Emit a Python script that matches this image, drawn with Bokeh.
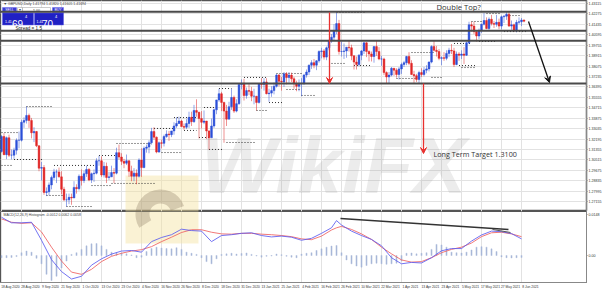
from bokeh.plotting import figure
from bokeh.models import Range1d, FixedTicker, Label, Arrow, VeeHead, Span, ColumnDataSource
from bokeh.layouts import column
from bokeh.embed import file_html
from bokeh.resources import INLINE
from bokeh.core.properties import value

# ---------------- data (GBPUSD daily) ----------------
title_text = "\u25bc GBPUSD,Daily  1.41794 1.41820 1.41605 1.41694"
first_open = 1.3120
highs = [1.3252,1.3267,1.3240,1.3255,1.3135,1.3150,1.3225,1.3280,1.3375,1.3395,
         1.3482,1.3425,1.3390,1.3315,1.3285,1.3170,1.3035,1.3010,1.2830,1.2870,
         1.2925,1.2980,1.2975,1.2990,1.2960,1.2835,1.2780,1.2780,1.2780,1.2880,
         1.2855,1.2935,1.2975,1.2965,1.3005,1.2985,1.2950,1.2975,1.3065,1.3085,
         1.3080,1.3035,1.3030,1.2955,1.3005,1.2985,1.3150,1.3175,1.3105,1.3060,
         1.3095,1.3045,1.3005,1.2985,1.2975,1.3065,1.3145,1.3160,1.3175,1.3210,
         1.3310,1.3315,1.3240,1.3200,1.3215,1.3255,1.3290,1.3285,1.3285,1.3355,
         1.3395,1.3400,1.3375,1.3345,1.3380,1.3440,1.3440,1.3495,1.3540,1.3440,
         1.3445,1.3450,1.3365,1.3290,1.3385,1.3465,1.3535,1.3625,1.3600,1.3520,
         1.3495,1.3520,1.3625,1.3570,1.3540,1.3660,1.3700,1.3705,1.3635,1.3665,
         1.3640,1.3625,1.3565,1.3670,1.3710,1.3710,1.3710,1.3625,1.3645,1.3675,
         1.3745,1.3745,1.3720,1.3760,1.3760,1.3760,1.3755,1.3720,1.3690,1.3700,
         1.3710,1.3745,1.3780,1.3820,1.3855,1.3865,1.3855,1.3935,1.3955,1.3945,
         1.3965,1.4020,1.4065,1.4145,1.4240,1.4180,1.4005,1.3990,1.3960,1.4015,
         1.3980,1.3895,1.3885,1.3905,1.3935,1.4000,1.4000,1.3935,1.3925,1.3965,
         1.4015,1.3960,1.3890,1.3875,1.3765,1.3760,1.3800,1.3790,1.3790,1.3800,
         1.3835,1.3850,1.3890,1.3920,1.3855,1.3770,1.3745,1.3770,1.3790,1.3800,
         1.3815,1.3845,1.3975,1.4010,1.3970,1.3945,1.3885,1.3920,1.3935,1.3955,
         1.3985,1.3955,1.3925,1.3920,1.3935,1.3960,1.4005,1.4165,1.4165,1.4165,
         1.4090,1.4110,1.4150,1.4235,1.4200,1.4200,1.4220,1.4170,1.4220,1.4190,
         1.4215,1.4220,1.4250,1.4250,1.4175,1.4150,1.4180,1.4200,1.4195,1.4182]
lows = [1.3110,1.3090,1.3058,1.3075,1.3055,1.3060,1.3095,1.3145,1.3200,1.3310,
        1.3345,1.3310,1.3225,1.3195,1.3155,1.2960,1.2885,1.2770,1.2760,1.2765,
        1.2815,1.2890,1.2865,1.2910,1.2775,1.2720,1.2676,1.2695,1.2690,1.2750,
        1.2780,1.2805,1.2845,1.2865,1.2915,1.2880,1.2865,1.2875,1.2935,1.3005,
        1.2915,1.2910,1.2865,1.2890,1.2915,1.2865,1.2935,1.3055,1.3010,1.2985,
        1.3010,1.2915,1.2880,1.2880,1.2855,1.2910,1.2915,1.2985,1.3110,1.3105,
        1.3175,1.3215,1.3105,1.3110,1.3145,1.3160,1.3230,1.3205,1.3235,1.3255,
        1.3310,1.3340,1.3320,1.3295,1.3300,1.3310,1.3325,1.3350,1.3400,1.3225,
        1.3305,1.3340,1.3220,1.3135,1.3235,1.3310,1.3420,1.3520,1.3445,1.3190,
        1.3325,1.3385,1.3455,1.3430,1.3435,1.3495,1.3620,1.3530,1.3545,1.3575,
        1.3525,1.3500,1.3450,1.3505,1.3625,1.3610,1.3580,1.3520,1.3560,1.3580,
        1.3635,1.3645,1.3610,1.3640,1.3660,1.3675,1.3680,1.3625,1.3605,1.3605,
        1.3565,1.3655,1.3715,1.3735,1.3785,1.3790,1.3775,1.3835,1.3870,1.3860,
        1.3855,1.3935,1.3995,1.4015,1.4065,1.3900,1.3885,1.3865,1.3875,1.3925,
        1.3855,1.3780,1.3780,1.3805,1.3855,1.3905,1.3880,1.3845,1.3845,1.3835,
        1.3890,1.3855,1.3810,1.3735,1.3670,1.3670,1.3725,1.3730,1.3715,1.3700,
        1.3745,1.3800,1.3815,1.3815,1.3735,1.3670,1.3680,1.3670,1.3720,1.3725,
        1.3750,1.3765,1.3830,1.3925,1.3885,1.3855,1.3815,1.3850,1.3855,1.3880,
        1.3905,1.3800,1.3815,1.3850,1.3865,1.3825,1.3890,1.3985,1.4085,1.4065,
        1.4005,1.4025,1.4075,1.4135,1.4105,1.4100,1.4135,1.4115,1.4125,1.4105,
        1.4105,1.4155,1.4180,1.4125,1.4100,1.4085,1.4080,1.4145,1.4130,1.4161]
closes = [1.3240,1.3094,1.3230,1.3090,1.3090,1.3130,1.3210,1.3210,1.3355,1.3370,
          1.3410,1.3370,1.3270,1.3280,1.3165,1.2985,1.2990,1.2790,1.2795,1.2850,
          1.2910,1.2955,1.2955,1.2915,1.2815,1.2730,1.2730,1.2750,1.2745,1.2830,
          1.2820,1.2920,1.2885,1.2940,1.2975,1.2890,1.2940,1.2945,1.3045,1.3045,
          1.2930,1.3000,1.2910,1.2915,1.2950,1.2945,1.3110,1.3075,1.3040,1.3025,
          1.3045,1.2960,1.2920,1.2945,1.2920,1.3050,1.2990,1.3145,1.3155,1.3190,
          1.3280,1.3235,1.3115,1.3190,1.3185,1.3240,1.3260,1.3255,1.3285,1.3325,
          1.3345,1.3365,1.3320,1.3315,1.3345,1.3395,1.3360,1.3450,1.3435,1.3385,
          1.3355,1.3365,1.3285,1.3230,1.3325,1.3455,1.3535,1.3585,1.3515,1.3445,
          1.3380,1.3480,1.3555,1.3445,1.3505,1.3660,1.3670,1.3570,1.3610,1.3605,
          1.3565,1.3565,1.3515,1.3665,1.3660,1.3680,1.3585,1.3590,1.3610,1.3645,
          1.3735,1.3685,1.3680,1.3745,1.3715,1.3735,1.3705,1.3665,1.3645,1.3665,
          1.3670,1.3735,1.3760,1.3815,1.3835,1.3815,1.3850,1.3925,1.3930,1.3880,
          1.3955,1.4010,1.4040,1.4095,1.4150,1.3925,1.3925,1.3930,1.3960,1.3955,
          1.3890,1.3840,1.3820,1.3895,1.3930,1.3995,1.3925,1.3905,1.3885,1.3965,
          1.3925,1.3865,1.3865,1.3755,1.3720,1.3735,1.3790,1.3775,1.3740,1.3785,
          1.3820,1.3835,1.3885,1.3830,1.3740,1.3730,1.3700,1.3755,1.3740,1.3775,
          1.3785,1.3840,1.3965,1.3935,1.3925,1.3870,1.3875,1.3870,1.3910,1.3935,
          1.3930,1.3820,1.3905,1.3895,1.3905,1.3895,1.3995,1.4140,1.4130,1.4085,
          1.4050,1.4095,1.4145,1.4175,1.4110,1.4185,1.4150,1.4145,1.4160,1.4130,
          1.4205,1.4210,1.4225,1.4130,1.4140,1.4095,1.4160,1.4165,1.4179,1.41694]

date_tick_idx = [0, 8, 16, 24, 32, 40, 48, 56, 64, 72, 80, 88, 96, 104, 112, 120,
                 128, 136, 144, 152, 160, 168, 176, 184, 192, 200, 208]
date_labels = ["18 Aug 2020", "28 Aug 2020", "9 Sep 2020", "21 Sep 2020", "1 Oct 2020",
               "13 Oct 2020", "23 Oct 2020", "4 Nov 2020", "16 Nov 2020", "26 Nov 2020",
               "8 Dec 2020", "18 Dec 2020", "31 Dec 2020", "13 Jan 2021", "25 Jan 2021",
               "4 Feb 2021", "16 Feb 2021", "26 Feb 2021", "10 Mar 2021", "22 Mar 2021",
               "1 Apr 2021", "13 Apr 2021", "23 Apr 2021", "5 May 2021", "17 May 2021",
               "27 May 2021", "8 Jun 2021"]
price_ticks = [1.43115, 1.42275, 1.41435, 1.40595, 1.39755, 1.38915, 1.38075, 1.37235,
               1.36395, 1.35555, 1.34715, 1.33875, 1.33035, 1.32195, 1.31355, 1.30515,
               1.29675, 1.28835, 1.27995, 1.27155]
key_levels = [1.4245, 1.4092, 1.4012, 1.3667]
key_level_labels = ["1.42450", "1.40920", "1.40120", "1.36670"]
current_price = 1.41694
target_price = 1.3100

# fractal support / resistance dotted segments (bar from, bar to, price)
lvl_from = [10,0,5,0,21,18,26,39,36,44,46,61,64,69,73,81,79,83,90,87,102,107,97,110,114,
            120,132,141,158,156,169,172,184,194,202,188,201,191,181,164,183,134]
lvl_to = [20,7,17,4,37,25,36,46,44,62,60,69,72,78,78,86,83,89,102,92,106,113,106,120,120,
          126,138,148,166,158,174,176,190,200,208,193,210,198,188,173,190,146]
lvl_price = [1.3482,1.3272,1.3055,1.3007,1.3007,1.2765,1.2676,1.3087,1.2845,1.2862,
             1.3184,1.3305,1.3111,1.3393,1.3289,1.3474,1.3232,1.3136,1.3192,1.3627,
             1.3450,1.3514,1.3716,1.3748,1.3619,1.3571,1.3829,1.3812,1.3708,1.3667,
             1.3667,1.3716,1.3796,1.4231,1.4215,1.4167,1.4086,1.4006,1.3990,1.3917,
             1.3812,1.4240]

# MACD pane
macd_idx = [0,4,8,12,16,20,24,28,32,36,40,44,48,52,56,60,64,68,72,76,80,84,88,92,96,
            100,104,108,112,116,120,124,128,132,134,136,140,144,148,152,156,160,164,
            168,172,176,180,184,188,192,196,200,204,208]
macd_main = [0.0138,0.0118,0.0118,0.0120,0.0055,-0.0015,-0.0058,-0.0085,-0.0075,-0.0035,
             -0.0012,0.0005,0.0016,0.0018,0.0012,0.0050,0.0065,0.0075,0.0095,0.0090,
             0.0088,0.0050,0.0072,0.0075,0.0080,0.0082,0.0072,0.0067,0.0070,0.0066,
             0.0055,0.0062,0.0080,0.0100,0.0126,0.0110,0.0088,0.0072,0.0058,0.0035,
             -0.0008,-0.0030,-0.0025,-0.0027,-0.0008,0.0017,0.0025,0.0025,0.0052,0.0074,
             0.0088,0.0086,0.0079,0.0060]
macd_signal = [0.0132,0.0120,0.0116,0.0118,0.0085,0.0030,-0.0020,-0.0060,-0.0068,-0.0050,
               -0.0022,-0.0003,0.0008,0.0016,0.0021,0.0032,0.0050,0.0066,0.0083,0.0093,
               0.0093,0.0084,0.0078,0.0077,0.0080,0.0080,0.0077,0.0075,0.0072,0.0068,
               0.0060,0.0057,0.0070,0.0092,0.0100,0.0105,0.0094,0.0078,0.0058,0.0030,
               0.0006,-0.0016,-0.0024,-0.0022,-0.0008,0.0010,0.0022,0.0030,0.0045,0.0068,
               0.0082,0.0084,0.0078,0.0068]
# histogram, one value every second bar
macd_hist = [-0.0008,-0.0008,-0.0007,-0.0004,0.0010,0.0016,0.0012,-0.0010,-0.0030,-0.0068,
             -0.0090,-0.0075,-0.0045,-0.0020,0.0004,0.0010,0.0022,0.0035,0.0042,0.0043,
             0.0035,0.0022,0.0012,0.0010,0.0009,0.0006,0.0002,-0.0008,-0.0006,0.0014,
             0.0025,0.0030,0.0027,0.0025,0.0024,0.0028,0.0022,0.0012,0.0008,0.0004,
             -0.0008,-0.0022,-0.0030,-0.0012,0.0004,0.0006,0.0008,0.0005,0.0007,0.0009,
             0.0004,-0.0002,-0.0006,-0.0003,-0.0002,0.0005,0.0003,-0.0003,-0.0006,-0.0008,
             0.0005,0.0008,0.0010,0.0018,0.0024,0.0030,0.0034,0.0036,0.0010,-0.0016,
             -0.0030,-0.0038,-0.0042,-0.0036,-0.0030,-0.0028,-0.0030,-0.0032,-0.0030,-0.0028,
             -0.0020,0.0008,0.0009,0.0006,0.0008,0.0010,0.0022,0.0040,0.0038,0.0030,
             0.0012,0.0010,0.0009,0.0012,0.0020,0.0030,0.0032,0.0030,0.0024,0.0014,
             -0.0005,-0.0008,-0.0009,-0.0008,-0.0007]
macd_title = "MACD(12,26,9) Histogram -0.0012 0.0062 0.0058"
macd_ticks = [0.0148, 0.0, -0.01]
macd_tick_labels = ["0.0148", "0.00", "-0.01"]

# analyst annotations (bar index, price)
arrow_top = (131.2, 1.4240, 1.3667)
arrow_target = (168.8, 1.3667, 1.3103)
arrow_black = (210.8, 1.4167, 219.2, 1.3675)
macd_trend = (135.6, 0.01336, 202.8, 0.00939)
macd_trend2 = (196.4, 0.00940, 203.6, 0.00830)

# ---------------- layout constants ----------------
FW = 586
H1 = 211
H2 = 71
x_lo, x_hi = -0.4, 234.0
p_lo, p_hi = 1.26359, 1.43362
m_lo, m_hi = -0.00975, 0.01588
SMALL = value("Liberation Sans")


def px_x(px):
    return x_lo + px * (x_hi - x_lo) / FW


def py1(py):
    return p_hi - py * (p_hi - p_lo) / H1


def py2(py):
    return m_hi - (py - H1) * (m_hi - m_lo) / H2


opens = [first_open] + closes[:-1]
n = len(closes)
idx = list(range(n))
bull = "#2b4fd8"
bear = "#e02626"
colors = [bull if c >= o else bear for o, c in zip(opens, closes)]
src = ColumnDataSource(dict(
    x=idx, high=highs, low=lows,
    top=[max(o, c) for o, c in zip(opens, closes)],
    bottom=[min(o, c) for o, c in zip(opens, closes)],
    color=colors))


def style_right_axis(ax):
    ax.major_label_text_font_size = "3.6px"
    ax.major_label_text_font = "Liberation Sans"
    ax.major_label_text_color = "#333333"
    ax.major_tick_out = 1
    ax.major_tick_in = 0
    ax.minor_tick_out = 0
    ax.minor_tick_in = 0
    ax.major_label_standoff = 1
    ax.axis_line_color = "#888888"
    ax.major_tick_line_color = "#888888"


# ---------------- price pane ----------------
p1 = figure(frame_width=FW, frame_height=H1, x_range=Range1d(x_lo, x_hi),
            y_range=Range1d(p_lo, p_hi), output_backend="svg", toolbar_location=None,
            x_axis_location=None, y_axis_location="right",
            min_border_left=0, min_border_top=0, min_border_bottom=0, min_border_right=0)
p1.background_fill_color = "white"
p1.border_fill_color = "white"
p1.outline_line_color = "#555555"
p1.outline_line_width = 1.5
p1.xgrid.ticker = FixedTicker(ticks=date_tick_idx)
p1.xgrid.grid_line_color = "#e2e2e2"
p1.ygrid.grid_line_color = "#e2e2e2"
p1.yaxis.ticker = FixedTicker(ticks=price_ticks)
p1.yaxis.major_label_overrides = {t: f"{t:.5f}" for t in price_ticks}
style_right_axis(p1.yaxis)


def add_logo(fig, ymap):
    # WikiFX watermark badge
    fig.quad(left=[px_x(125)], right=[px_x(198)], top=[ymap(175)], bottom=[ymap(243)],
             fill_color="#f5e3a0", fill_alpha=0.45, line_color=None)
    fig.annular_wedge(x=[px_x(160)], y=[ymap(214)], inner_radius=11, outer_radius=25,
                      inner_radius_units="screen", outer_radius_units="screen",
                      start_angle=0.35, end_angle=3.7,
                      fill_color="#6a5840", fill_alpha=0.25, line_color=None)


add_logo(p1, py1)
p1.text(x=[px_x(200)], y=[py1(209)], text=["WikiFX"], text_font=value("Liberation Sans"),
        text_font_size="80px", text_font_style="bold italic", text_color="#8c8c8c",
        text_alpha=0.17, text_baseline="bottom", text_align="left")

# key horizontal levels
for lv in key_levels:
    p1.add_layout(Span(location=lv, dimension="width", line_color="#4a4a4a", line_width=2))

# fractal dotted levels
p1.segment(x0=lvl_from, y0=lvl_price, x1=lvl_to, y1=lvl_price,
           line_color="#333333", line_width=1, line_dash="1 2")

# candles
p1.segment(x0="x", y0="low", x1="x", y1="high", source=src, line_color="color",
           line_alpha=0.5, line_width=1)
p1.vbar(x="x", top="top", bottom="bottom", width=0.7, source=src,
        fill_color="color", line_color="color", line_width=0.5)

# red arrows
p1.add_layout(Arrow(end=VeeHead(size=6, line_color="#e8312f", fill_color="#e8312f"),
                    x_start=arrow_top[0], y_start=arrow_top[1], x_end=arrow_top[0],
                    y_end=arrow_top[2], line_color="#e8312f", line_width=1.3))
p1.add_layout(Arrow(end=VeeHead(size=6, line_color="#e8312f", fill_color="#e8312f"),
                    x_start=arrow_target[0], y_start=arrow_target[1], x_end=arrow_target[0],
                    y_end=arrow_target[2], line_color="#e8312f", line_width=1.3))
p1.add_layout(Arrow(end=VeeHead(size=6, line_color="#111111", fill_color="#111111"),
                    x_start=arrow_black[0], y_start=arrow_black[1], x_end=arrow_black[2],
                    y_end=arrow_black[3], line_color="#111111", line_width=1.3))

p1.text(x=[px_x(433)], y=[target_price + 0.0003], text=["Long Term Target 1.3100"],
        text_font=value("Open Sans"), text_font_size="7.2px", text_color="#333333",
        text_baseline="middle", text_align="left")
p1.text(x=[px_x(436)], y=[py1(6)], text=["Double Top?"],
        text_font=value("Open Sans"), text_font_size="7.6px", text_color="#333333",
        text_baseline="middle", text_align="left")

# one-click trading panel
p1.text(x=[px_x(3)], y=[py1(3)], text=[title_text], text_font=SMALL, text_font_size="3.5px",
        text_color="#444444", text_baseline="middle", text_align="left")
p1.quad(left=[px_x(2), px_x(52)], right=[px_x(16), px_x(63)], top=[py1(7)] * 2,
        bottom=[py1(12)] * 2, fill_color="#3a3ad6", line_color="#6b6be8", line_width=0.5)
p1.quad(left=[px_x(17), px_x(22)], right=[px_x(22), px_x(50)], top=[py1(7)] * 2,
        bottom=[py1(12)] * 2, fill_color="white", line_color="#999999", line_width=0.5)
p1.text(x=[px_x(9), px_x(57.5), px_x(19.5), px_x(36)], y=[py1(9.5)] * 4,
        text=["SELL", "BUY", "\u25bc", "1.00"], text_font=SMALL, text_font_size="3.5px",
        text_color=["white", "white", "#555555", "#222222"], text_baseline="middle",
        text_align="center")
p1.quad(left=[px_x(2), px_x(34)], right=[px_x(33), px_x(63)], top=[py1(12.5)] * 2,
        bottom=[py1(24.5)] * 2, fill_color="#2020c4", line_color="#5a5ae0", line_width=0.5)
p1.text(x=[px_x(4.5), px_x(36)], y=[py1(20.5)] * 2, text=["1.41", "1.41"], text_font=SMALL,
        text_font_size="3.5px", text_color="white", text_baseline="middle", text_align="left")
p1.text(x=[px_x(11.5), px_x(41.5)], y=[py1(23.3)] * 2, text=["69", "70"], text_font=SMALL,
        text_font_size="10px", text_color="white", text_baseline="alphabetic",
        text_align="left")
p1.text(x=[px_x(24.5), px_x(54.5)], y=[py1(16)] * 2, text=["4", "4"], text_font=SMALL,
        text_font_size="4px", text_color="white", text_baseline="middle", text_align="left")
p1.text(x=[px_x(15)], y=[py1(28)], text=["Spread = 1.5"], text_font=SMALL,
        text_font_size="4.6px", text_color="#222222", text_baseline="middle", text_align="left")

# dark price boxes on the axis
for lv, lab in zip(key_levels + [current_price], key_level_labels + [f"{current_price:.5f}"]):
    p1.add_layout(Label(x=x_hi, y=lv, text=lab, text_font_size="3.4px", text_font="Liberation Sans",
                        text_color="white", background_fill_color="#202020",
                        text_baseline="middle", x_offset=1))

# ---------------- MACD pane ----------------
p2 = figure(frame_width=FW, frame_height=H2, x_range=p1.x_range, y_range=Range1d(m_lo, m_hi),
            output_backend="svg", toolbar_location=None, y_axis_location="right",
            min_border_left=0, min_border_top=0, min_border_bottom=0, min_border_right=0)
p2.background_fill_color = "white"
p2.border_fill_color = "white"
p2.outline_line_color = "#555555"
p2.outline_line_width = 1
p2.xgrid.ticker = FixedTicker(ticks=date_tick_idx)
p2.xgrid.grid_line_color = "#e2e2e2"
p2.ygrid.visible = False
label_pos = [i + 3.6 for i in date_tick_idx]
p2.xaxis.ticker = FixedTicker(ticks=label_pos)
p2.xaxis.major_label_overrides = {pos: lab for pos, lab in zip(label_pos, date_labels)}
p2.xaxis.major_label_text_font_size = "3.3px"
p2.xaxis.major_label_text_font = "Liberation Sans"
p2.xaxis.major_label_text_color = "#333333"
p2.xaxis.major_tick_out = 0
p2.xaxis.major_tick_in = 0
p2.xaxis.minor_tick_out = 0
p2.xaxis.minor_tick_in = 0
p2.xaxis.major_label_standoff = 2
p2.xaxis.axis_line_color = "#888888"
p2.yaxis.ticker = FixedTicker(ticks=macd_ticks)
p2.yaxis.major_label_overrides = {t: s for t, s in zip(macd_ticks, macd_tick_labels)}
style_right_axis(p2.yaxis)

add_logo(p2, py2)

hist_x = [2 * k for k in range(len(macd_hist))]
p2.vbar(x=hist_x, top=macd_hist, bottom=0, width=0.45, fill_color="#a9b8da",
        line_color="#a9b8da", line_width=0.4)
p2.line(macd_idx, macd_signal, line_color="#ee6060", line_width=1, line_alpha=0.85)
p2.line(macd_idx, macd_main, line_color="#5a5af0", line_width=1, line_alpha=0.85)
p2.segment(x0=[macd_trend[0]], y0=[macd_trend[1]], x1=[macd_trend[2]], y1=[macd_trend[3]],
           line_color="#333333", line_width=1.3)
p2.segment(x0=[macd_trend2[0]], y0=[macd_trend2[1]], x1=[macd_trend2[2]], y1=[macd_trend2[3]],
           line_color="#555555", line_width=1)
p2.text(x=[px_x(3)], y=[py2(214.5)], text=[macd_title], text_font=SMALL, text_font_size="3.5px",
        text_color="#444444", text_baseline="middle", text_align="left")

layout = column(p1, p2, spacing=0)
open("out.html", "w").write(file_html(layout, INLINE))
